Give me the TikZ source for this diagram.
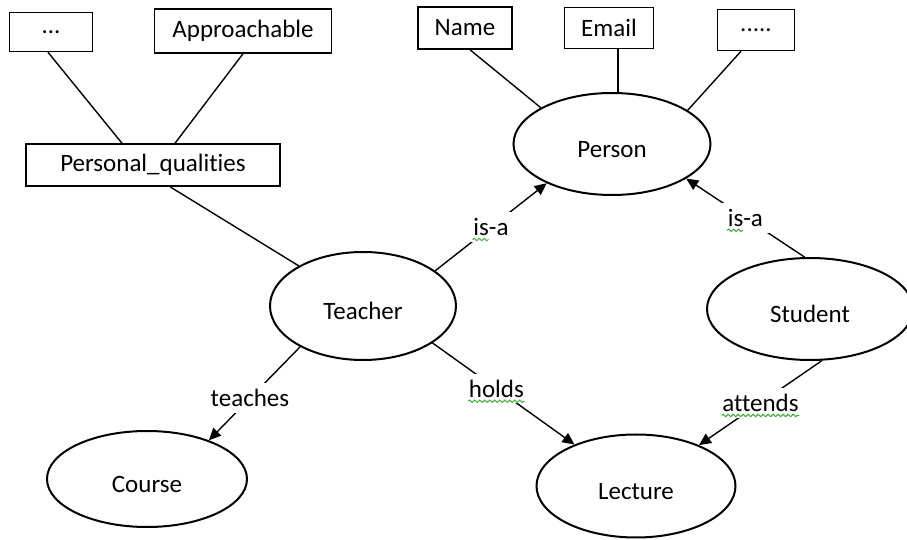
\documentclass[tikz,border=0pt]{standalone}
\usepackage{fontspec}
\setmainfont{Carlito}[Ligatures=NoCommon]
\usetikzlibrary{arrows.meta,shapes.geometric,decorations.pathmorphing}
\definecolor{squiggle}{HTML}{3DAA3D}

\begin{document}
\begin{tikzpicture}[x=0.5pt,y=-0.5pt,
  font=\fontsize{12.5}{15}\selectfont,
  attr/.style={draw,line width=0.75pt,inner sep=0pt,minimum height=21pt},
  concept/.style={ellipse,draw,line width=1pt,inner sep=0pt,text height=14pt,text depth=0pt},
  link/.style={line width=0.7pt},
  arrow/.style={link,-{Triangle[length=6pt,width=5.5pt]}},
  rel/.style={fill=white,inner sep=3pt},
  squig/.style={draw=squiggle,line width=0.5pt,decorate,
    decoration={snake,amplitude=0.6pt,segment length=2.5pt}}]
  \useasboundingbox (0,0) rectangle (907,540);

  % Attributes
  \node[attr,minimum width=41.5pt,minimum height=19.5pt] (etc1) at (51,32) {…};
  \node[attr,minimum width=88.5pt,minimum height=22pt] (appr) at (243,31) {Approachable};
  \node[attr,minimum width=127pt] (qual) at (153,165) {Personal\_qualities};
  \node[attr,minimum width=47pt] (name) at (465,28) {Name};
  \node[attr,minimum width=44.5pt,minimum height=20.5pt] (email) at (609,28) {Email};
  \node[attr,minimum width=38.5pt,minimum height=20.5pt] (etc2) at (756,30) {.....};

  % Concepts
  \node[concept,minimum width=98.5pt,minimum height=51pt] (person) at (612,144) {Person};
  \node[concept,minimum width=93pt,minimum height=54pt] (teacher) at (363,306) {Teacher};
  \node[concept,minimum width=103pt,minimum height=51pt] (student) at (810,309) {Student};
  \node[concept,minimum width=100pt,minimum height=48pt] (course) at (147,479) {Course};
  \node[concept,minimum width=99.5pt,minimum height=51.5pt] (lecture) at (636,486) {Lecture};

  % Attribute links
  \draw[link] ([xshift=-1.5pt]etc1.south) -- ([xshift=-15.5pt]qual.north);
  \draw[link] (appr.south) -- ([xshift=11pt]qual.north);
  \draw[link] ([xshift=8.5pt]qual.south) -- (teacher.148);
  \draw[link] ([xshift=2.5pt]name.south) -- (person.153);
  \draw[link] ([xshift=4.5pt]email.south) -- ([xshift=3pt]person.north);
  \draw[link] ([xshift=-7.5pt]etc2.south) -- (person.24);

  % Relations
  \draw[arrow] (teacher.26) -- node[rel] (isa1) {is-a} (person.211);
  \draw[arrow] (student.96) -- node[rel] (isa2) {is-a} (person.335);
  \draw[arrow] (teacher.213) -- node[rel,pos=0.55] (teaches) {teaches} (course.32);
  \draw[arrow] (teacher.332) -- node[rel,pos=0.45] (holds) {holds} (lecture.146);
  \draw[arrow] (student.283) -- node[rel] (attends) {attends} (lecture.33);

  % spell check marks
  \draw[squig] ([xshift=3pt,yshift=-2pt]isa1.base west) -- ++(8pt,0);
  \draw[squig] ([xshift=3pt,yshift=-2pt]isa2.base west) -- ++(8pt,0);
  \draw[squig] ([xshift=3pt,yshift=-2pt]holds.base west) -- ([xshift=-3pt,yshift=-2pt]holds.base east);
  \draw[squig] ([xshift=3pt,yshift=-2pt]attends.base west) -- ([xshift=-3pt,yshift=-2pt]attends.base east);
\end{tikzpicture}
\end{document}
